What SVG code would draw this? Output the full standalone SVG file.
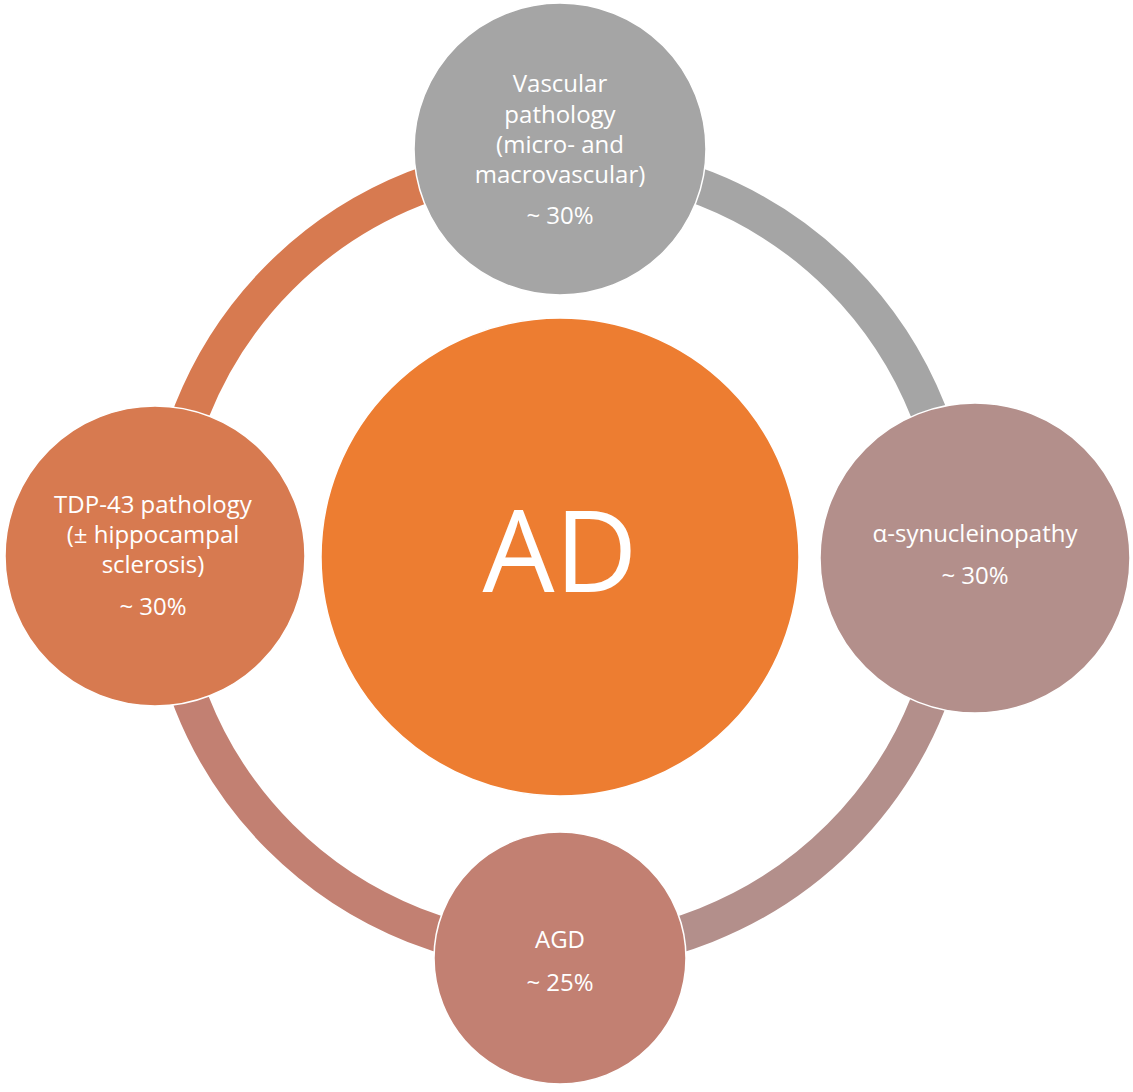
<svg xmlns="http://www.w3.org/2000/svg" width="1133" height="1092" viewBox="0 0 1133 1092">
<style>
.arc{fill:none;stroke-width:36;stroke-linecap:butt}
.node{stroke:#ffffff;stroke-width:1.5}
.t{font-family:"Open Sans","Liberation Sans",sans-serif;font-size:24px;fill:#ffffff;text-anchor:middle}
.big{font-family:"Open Sans","Liberation Sans",sans-serif;font-size:114px;fill:#ffffff;text-anchor:middle}
</style>
<rect width="1133" height="1092" fill="#ffffff"/>
<g id="connectors">
<path class="arc" stroke="#D77A50" d="M164,557 A396,396 0 0 1 560,161"/>
<path class="arc" stroke="#A5A5A5" d="M560,161 A396,396 0 0 1 956,557"/>
<path class="arc" stroke="#B38F8B" d="M956,557 A396,396 0 0 1 560,953"/>
<path class="arc" stroke="#C28072" d="M560,953 A396,396 0 0 1 164,557"/>
</g>
<g id="node-ad">
<circle class="node" cx="560" cy="557" r="239" fill="#ED7D31"/>
<text class="big" x="560" y="592">AD</text>
</g>
<g id="node-vascular">
<circle class="node" cx="560" cy="149" r="146" fill="#A5A5A5"/>
<text class="t" x="560" y="92">Vascular</text>
<text class="t" x="560" y="123">pathology</text>
<text class="t" x="560" y="153">(micro- and</text>
<text class="t" x="560" y="183">macrovascular)</text>
<text class="t" x="560" y="224">~ 30%</text>
</g>
<g id="node-tdp43">
<circle class="node" cx="155" cy="556" r="150" fill="#D77A50"/>
<text class="t" x="153" y="513">TDP-43 pathology</text>
<text class="t" x="153" y="543">(± hippocampal</text>
<text class="t" x="153" y="573">sclerosis)</text>
<text class="t" x="153" y="615">~ 30%</text>
</g>
<g id="node-synuclein">
<circle class="node" cx="975" cy="558" r="155" fill="#B38F8B"/>
<text class="t" x="975" y="542">α-synucleinopathy</text>
<text class="t" x="975" y="584">~ 30%</text>
</g>
<g id="node-agd">
<circle class="node" cx="560" cy="958" r="126" fill="#C28072"/>
<text class="t" x="560" y="948">AGD</text>
<text class="t" x="560" y="991">~ 25%</text>
</g>
</svg>
